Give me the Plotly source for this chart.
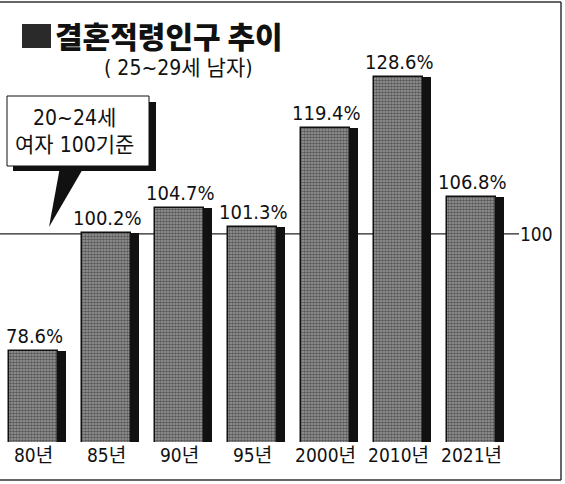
import plotly.graph_objects as go

categories = ["80년", "85년", "90년", "95년", "2000년", "2010년", "2021년"]
values = [78.6, 100.2, 104.7, 101.3, 119.4, 128.6, 106.8]
value_labels = ["78.6%", "100.2%", "104.7%", "101.3%", "119.4%", "128.6%", "106.8%"]
reference_value = 100
title_text = "결혼적령인구 추이"
subtitle_text = "( 25~29세 남자)"
callout_lines = ["20~24세", "여자 100기준"]

W, H = 565, 484
ML, MR, MT, MB = 0, 53, 40, 42
PW, PH = W - ML - MR, H - MT - MB

def px(X):
    return (X - ML) / PW

def py(Y):
    return (H - MB - Y) / PH

FONT = "Liberation Sans Narrow, DejaVu Sans Condensed, Noto Sans CJK KR, sans-serif"

fig = go.Figure()
# shadow bars
fig.add_trace(go.Bar(
    x=categories, y=values, width=0.78, offset=-0.335,
    marker=dict(color="#111111", line=dict(width=0)),
    hoverinfo="skip", showlegend=False,
))
# textured main bars
fig.add_trace(go.Bar(
    x=categories, y=values, width=0.67, offset=-0.335,
    marker=dict(
        color="#7a7a7a",
        line=dict(color="#111111", width=1.5),
        pattern=dict(shape=".", bgcolor="#9c9c9c", fgcolor="#151515", size=3, solidity=0.6),
    ),
    showlegend=False,
))

annotations = []
for c, v, lab in zip(categories, values, value_labels):
    annotations.append(dict(x=c, y=v, xref="x", yref="y", text=lab, showarrow=False,
                            yanchor="bottom", yshift=1, xshift=1,
                            font=dict(family=FONT, size=20, color="#111")))

# reference line label
annotations.append(dict(x=px(518), y=reference_value, xref="paper", yref="y", text=str(reference_value),
                        showarrow=False, xanchor="left", yanchor="middle",
                        font=dict(family=FONT, size=19, color="#111")))
# title
annotations.append(dict(x=px(53), y=py(35), xref="paper", yref="paper", text=title_text,
                        showarrow=False, xanchor="left", yanchor="middle",
                        font=dict(family="Noto Sans CJK KR, sans-serif", size=30, weight=900, color="#111")))
annotations.append(dict(x=px(102), y=py(68), xref="paper", yref="paper", text=subtitle_text,
                        showarrow=False, xanchor="left", yanchor="middle",
                        font=dict(family=FONT, size=21, color="#111")))
# callout text
annotations.append(dict(x=px(74), y=py(131), xref="paper", yref="paper",
                        text="<br>".join(callout_lines), showarrow=False,
                        xanchor="center", yanchor="middle", align="center",
                        font=dict(family=FONT, size=21, color="#111")))

shapes = [
    # reference line
    dict(type="line", xref="paper", yref="y", x0=px(0), x1=px(519), y0=reference_value, y1=reference_value,
         line=dict(color="#222", width=1.2), layer="below"),
    # frame
    dict(type="line", xref="paper", yref="paper", x0=px(0), x1=px(561), y0=py(2), y1=py(2),
         line=dict(color="#333", width=1.5)),
    dict(type="line", xref="paper", yref="paper", x0=px(561), x1=px(561), y0=py(2), y1=py(480),
         line=dict(color="#333", width=1.5)),
    dict(type="line", xref="paper", yref="paper", x0=px(0), x1=px(561), y0=py(480), y1=py(480),
         line=dict(color="#333", width=1.5)),
    # title square
    dict(type="rect", xref="paper", yref="paper", x0=px(22), x1=px(51), y0=py(24), y1=py(48),
         fillcolor="#2a2a2a", line=dict(width=0)),
    # callout shadow
    dict(type="rect", xref="paper", yref="paper", x0=px(13), x1=px(156), y0=py(102), y1=py(171),
         fillcolor="#111", line=dict(width=0)),
    # callout box
    dict(type="rect", xref="paper", yref="paper", x0=px(7), x1=px(149), y0=py(96), y1=py(166),
         fillcolor="white", line=dict(color="#111", width=1)),
    # pointer
    dict(type="path", xref="paper", yref="paper",
         path=f"M {px(60)},{py(167)} L {px(84)},{py(167)} L {px(49)},{py(227)} Z",
         fillcolor="#111", line=dict(width=0)),
]

fig.update_layout(
    width=W, height=H,
    margin=dict(l=ML, r=MR, t=MT, b=MB),
    paper_bgcolor="white", plot_bgcolor="white",
    barmode="overlay", bargap=0,
    showlegend=False,
    xaxis=dict(range=[-0.5 + 3 / 73, -0.5 + 3 / 73 + PW / 73], showgrid=False, zeroline=False,
               showline=False, ticks="", tickfont=dict(family=FONT, size=19, color="#111")),
    yaxis=dict(range=[62.0, 62.0 + PH / 5.477], showgrid=False, zeroline=False,
               showline=False, showticklabels=False, ticks=""),
    shapes=shapes, annotations=annotations,
)

fig.write_html("out.html")
